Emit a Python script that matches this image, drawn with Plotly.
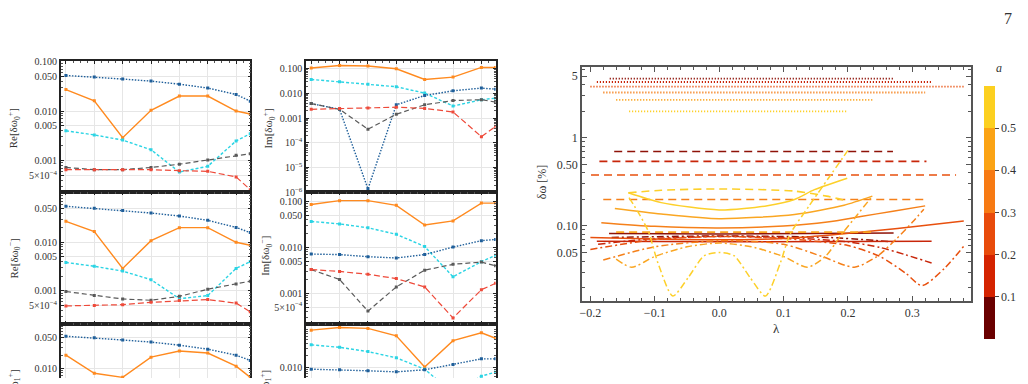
import plotly.graph_objects as go

W, H = 1028, 384
SERIF = "Liberation Serif, DejaVu Serif, serif"

# ---------------- left panels data ----------------
X_LEFT = [1, 2, 3, 4, 5, 6, 7, 7.5]

A_blue = [0.052, 0.0485, 0.044, 0.040, 0.0347, 0.029, 0.0215, 0.0158]
A_orange = [0.027, 0.016, 0.0029, 0.0103, 0.020, 0.020, 0.010, 0.0087]
A_cyan = [0.0040, 0.0033, 0.0026, 0.00166, 0.00059, 0.00077, 0.0025, 0.0035]
A_gray = [0.00073, 0.00066, 0.00066, 0.00073, 0.00085, 0.00103, 0.00128, 0.00138]
A_red = [0.00066, 0.00066, 0.00066, 0.00066, 0.00063, 0.00061, 0.00047, 0.00026]

B_orange = [0.107, 0.135, 0.13, 0.10, 0.037, 0.046, 0.113, 0.113]
B_cyan = [0.037, 0.030, 0.0236, 0.0187, 0.0104, 0.0031, 0.0056, 0.0065]
B_blue = [0.0039, 0.0023, 1.4e-6, 0.0035, 0.0083, 0.0129, 0.0165, 0.015]
B_gray = [0.0039, 0.0023, 0.00036, 0.00145, 0.0035, 0.0052, 0.0056, 0.0045]
B_red = [0.0023, 0.0025, 0.0026, 0.0028, 0.0025, 0.0018, 0.00018, 0.00047]

C_blue = [0.055, 0.050, 0.045, 0.040, 0.0347, 0.0283, 0.0202, 0.0158]
C_orange = [0.027, 0.0166, 0.0029, 0.0108, 0.020, 0.020, 0.010, 0.0087]
C_cyan = [0.00385, 0.0032, 0.00255, 0.0017, 0.00069, 0.0008, 0.0029, 0.004]
C_gray = [0.00097, 0.0008, 0.00068, 0.00064, 0.00077, 0.00108, 0.00138, 0.00158]
C_red = [0.00049, 0.0005, 0.00052, 0.00058, 0.00063, 0.00066, 0.00056, 0.00037]

D_orange = [0.0865, 0.105, 0.105, 0.083, 0.031, 0.038, 0.093, 0.093]
D_cyan = [0.037, 0.0327, 0.0269, 0.0194, 0.0105, 0.0023, 0.0049, 0.0068]
D_blue = [0.0072, 0.0070, 0.0063, 0.0059, 0.0070, 0.0102, 0.0141, 0.015]
D_gray = [0.0033, 0.0020, 0.00041, 0.00138, 0.0032, 0.0043, 0.0048, 0.0040]
D_red = [0.0033, 0.0030, 0.0026, 0.0021, 0.00138, 0.00029, 0.0012, 0.00166]

E_blue = [0.0545, 0.050, 0.0447, 0.040, 0.034, 0.0275, 0.020, 0.0151]
E_orange = [0.020, 0.0077, 0.0062, 0.018, 0.025, 0.0224, 0.0112, 0.0062]

F_orange = [0.086, 0.10, 0.095, 0.062, 0.0103, 0.047, 0.074, 0.054]
F_cyan = [0.037, 0.032, 0.025, 0.0175, 0.0091, 0.0023, 0.0061, 0.0077]
F_blue = [0.0091, 0.0088, 0.0083, 0.0078, 0.0088, 0.012, 0.0165, 0.0165]

# ---------------- right panel data ----------------
A_LEVELS = [0.05, 0.15, 0.25, 0.35, 0.45, 0.55]
CURVE_COLORS = ["#8E1208", "#C8260A", "#E8500E", "#F5801A", "#FAA622", "#FDD02A"]

DOT_LAM = [[-0.17, 0.27], [-0.19, 0.33], [-0.20, 0.38], [-0.18, 0.32], [-0.16, 0.24], [-0.14, 0.20]]
DOT_VAL = [[4.71, 4.71], [4.30, 4.30], [3.81, 3.81], [3.27, 3.27], [2.69, 2.69], [2.0, 2.0]]

DASH_LAM = [[-0.163, 0.27], [-0.186, 0.322], [-0.199, 0.368], [-0.18, 0.319], [-0.16, 0.24],
            [-0.141, -0.09, 0.0, 0.116, 0.167, 0.199]]
DASH_VAL = [[0.70, 0.70], [0.54, 0.54], [0.378, 0.378], [0.20, 0.20], [0.085, 0.085],
            [0.238, 0.254, 0.263, 0.249, 0.218, 0.192]]

SOLID_LAM = [[-0.171, 0.0, 0.271],
             [-0.19, 0.0, 0.33],
             [-0.2, -0.1, 0.0, 0.1, 0.173, 0.277, 0.38],
             [-0.183, -0.1, 0.0, 0.1, 0.168, 0.22, 0.27, 0.32],
             [-0.162, -0.09, 0.0, 0.117, 0.194, 0.238],
             [-0.141, -0.09, 0.0, 0.075, 0.117, 0.148, 0.199]]
SOLID_VAL = [[0.082, 0.081, 0.083],
             [0.067, 0.066, 0.067],
             [0.074, 0.071, 0.0697, 0.072, 0.079, 0.0935, 0.114],
             [0.109, 0.099, 0.095, 0.100, 0.111, 0.128, 0.147, 0.169],
             [0.158, 0.137, 0.121, 0.135, 0.172, 0.218],
             [0.238, 0.184, 0.152, 0.17, 0.2, 0.258, 0.348]]

DD_LAM = [[-0.167, 0.0, 0.17, 0.27],
          [-0.188, -0.1, 0.0, 0.1, 0.2, 0.25, 0.29, 0.33],
          [-0.2, -0.1, 0.0, 0.1, 0.2, 0.25, 0.29, 0.315, 0.35, 0.38],
          [-0.18, -0.1, 0.0, 0.1, 0.16, 0.21, 0.245, 0.276, 0.3, 0.318],
          [-0.16, -0.136, -0.1, -0.05, 0.0, 0.05, 0.1, 0.137, 0.165, 0.19, 0.215, 0.238],
          [-0.14, -0.125, -0.11, -0.095, -0.072, -0.048, -0.023, 0.0, 0.023, 0.048, 0.072,
           0.095, 0.11, 0.14, 0.17, 0.2]]
DD_VAL = [[0.074, 0.077, 0.074, 0.066],
          [0.062, 0.072, 0.076, 0.074, 0.066, 0.057, 0.047, 0.038],
          [0.054, 0.07, 0.076, 0.072, 0.06, 0.045, 0.029, 0.021, 0.033, 0.059],
          [0.041, 0.058, 0.068, 0.062, 0.045, 0.034, 0.045, 0.072, 0.11, 0.155],
          [0.042, 0.034, 0.045, 0.058, 0.064, 0.058, 0.045, 0.034, 0.045, 0.08, 0.135, 0.218],
          [0.21, 0.14, 0.087, 0.038, 0.016, 0.026, 0.046, 0.05, 0.046, 0.026, 0.016,
           0.038, 0.08, 0.17, 0.35, 0.72]]

CBAR_COLORS = ["#6A0000", "#D42300", "#E84B0B", "#F77A13", "#FBA314", "#FCD020"]
CBAR_TICKS = [0.1, 0.2, 0.3, 0.4, 0.5]

# ---------------- helpers ----------------
def xd(a, b):
    return [a / W, b / W]

def yd(top, bot):
    return [max(0.0, 1 - bot / H), 1 - top / H]

MINOR_LOG = [m * 10 ** k for k in range(-7, 1) for m in range(2, 10)]

STY = {
    "blue": dict(color="#1F5F9A", dash="1.5px,1.5px", width=1.4),
    "orange": dict(color="#FF8A1F", dash="solid", width=1.4),
    "cyan": dict(color="#2BD4E4", dash="3px,2px", width=1.4),
    "gray": dict(color="#5A5A5A", dash="5px,3px", width=1.2),
    "red": dict(color="#EE4A3A", dash="6px,3px", width=1.2),
}

fig = go.Figure()

def add_left(axn, key, y):
    s = STY[key]
    fig.add_trace(go.Scatter(
        x=X_LEFT, y=y, mode="lines+markers",
        line=dict(color=s["color"], dash=s["dash"], width=s["width"]),
        marker=dict(symbol="square", size=3, color=s["color"]),
        xaxis="x" + axn, yaxis="y" + axn, showlegend=False, hoverinfo="skip"))

panels = {
    "": [("blue", A_blue), ("orange", A_orange), ("cyan", A_cyan), ("gray", A_gray), ("red", A_red)],
    "2": [("orange", B_orange), ("cyan", B_cyan), ("blue", B_blue), ("gray", B_gray), ("red", B_red)],
    "3": [("blue", C_blue), ("orange", C_orange), ("cyan", C_cyan), ("gray", C_gray), ("red", C_red)],
    "4": [("orange", D_orange), ("cyan", D_cyan), ("blue", D_blue), ("gray", D_gray), ("red", D_red)],
    "5": [("blue", E_blue), ("orange", E_orange)],
    "6": [("orange", F_orange), ("cyan", F_cyan), ("blue", F_blue)],
}
for axn, lst in panels.items():
    for key, y in lst:
        add_left(axn, key, y)

# right panel curves
def add_right(lam, val, color, dash, width=1.6):
    fig.add_trace(go.Scatter(
        x=lam, y=val, mode="lines",
        line=dict(color=color, dash=dash, width=width, shape="spline", smoothing=0.7),
        xaxis="x7", yaxis="y7", showlegend=False, hoverinfo="skip"))

for i in range(6):
    c = CURVE_COLORS[i]
    add_right(DOT_LAM[i], DOT_VAL[i], c, "1.2px,1.8px", 1.8)
    add_right(DASH_LAM[i], DASH_VAL[i], c, "8px,5px", 1.6)
    add_right(SOLID_LAM[i], SOLID_VAL[i], c, "solid", 1.5)
    add_right(DD_LAM[i], DD_VAL[i], c, "7px,3px,2px,3px", 1.5)

# colorbar
cs = []
for i, c in enumerate(CBAR_COLORS):
    cs.append([i / 6, c])
    cs.append([(i + 1) / 6, c])
fig.add_trace(go.Scatter(
    x=[None], y=[None], mode="markers", xaxis="x7", yaxis="y7", showlegend=False,
    marker=dict(color=[0.3], cmin=0, cmax=0.6, colorscale=cs, showscale=True,
                colorbar=dict(thickness=11, lenmode="pixels", len=253,
                              x=984 / W, xanchor="left", y=1 - 83.3 / H, yanchor="top",
                              xpad=0, ypad=0, outlinewidth=0,
                              tickmode="array", tickvals=CBAR_TICKS,
                              ticktext=[f"{t:.1f}" for t in CBAR_TICKS],
                              ticks="outside", ticklen=4, tickcolor="#444",
                              tickfont=dict(family=SERIF, size=12, color="#333")))))

# ---------------- axes ----------------
LINE = "#222222"
GRID = "#E6E6E6"

def left_x(dom, top_only=False):
    d = dict(domain=dom, range=[0.82, 7.5], showline=True, linecolor=LINE, linewidth=1.5,
             ticks="inside", ticklen=3, tickwidth=1, tickcolor=LINE, tickmode="linear", tick0=0, dtick=1,
             showticklabels=False, showgrid=True, gridcolor=GRID, gridwidth=1, zeroline=False,
             minor=dict(ticks="inside", ticklen=2, tickwidth=0.8, tickcolor="#555",
                        dtick=0.25, tick0=0, showgrid=False))
    if top_only:
        d.update(side="top", mirror=False)
    else:
        d.update(mirror="allticks")
    return d

def left_y(dom, rng, tv, tt):
    return dict(domain=dom, type="log", range=rng, showline=True, linecolor=LINE, linewidth=1.5,
                mirror="allticks", ticks="inside", ticklen=3, tickwidth=1, tickcolor=LINE,
                tickmode="array", tickvals=tv, ticktext=tt,
                tickfont=dict(family=SERIF, size=10, color="#333"),
                showgrid=True, gridcolor=GRID, gridwidth=1, zeroline=False,
                minor=dict(ticks="inside", ticklen=2, tickwidth=0.8, tickcolor="#555",
                           tickmode="array", tickvals=MINOR_LOG, showgrid=False))

FIVE = "5×10<sup>−4</sup>"
C1 = xd(58, 248)
C2 = xd(304, 494)
R1 = yd(58, 193)
R2 = yd(193, 328)
R3 = yd(328, 384)

lay = dict(
    xaxis=left_x(C1), xaxis2=left_x(C2), xaxis3=left_x(C1), xaxis4=left_x(C2),
    xaxis5=left_x(C1, True), xaxis6=left_x(C2, True),
    yaxis=left_y(R1, [-3.64, -1.0], [0.1, 0.05, 0.01, 0.005, 0.001, 0.0005],
                 ["0.100", "0.050", "0.010", "0.005", "0.001", FIVE]),
    yaxis2=left_y(R1, [-6.0, -0.7], [0.1, 0.01, 0.001, 1e-4, 1e-5, 1e-6],
                  ["0.100", "0.010", "0.001", "10<sup>−4</sup>", "10<sup>−5</sup>", "10<sup>−6</sup>"]),
    yaxis3=left_y(R2, [-3.674, -0.975], [0.05, 0.01, 0.005, 0.001, 0.0005],
                  ["0.050", "0.010", "0.005", "0.001", FIVE]),
    yaxis4=left_y(R2, [-3.66, -0.80], [0.1, 0.05, 0.01, 0.005, 0.001, 0.0005],
                  ["0.100", "0.050", "0.010", "0.005", "0.001", FIVE]),
    yaxis5=left_y(R3, [-2.223, -0.973], [0.05, 0.01], ["0.050", "0.010"]),
    yaxis6=left_y(R3, [-2.261, -0.902], [0.01], ["0.010"]),
)
for k in ["", "2", "3", "4", "5", "6"]:
    lay["xaxis" + k]["anchor"] = "y" + k
    lay["yaxis" + k]["anchor"] = "x" + k

RLINE = "#555555"
lay["xaxis7"] = dict(domain=xd(580.7, 970.7), anchor="y7", range=[-0.213, 0.391],
                     showline=True, linecolor=RLINE, linewidth=1.5, mirror="allticks",
                     ticks="inside", ticklen=5, tickcolor=RLINE, tickmode="array",
                     tickvals=[-0.2, -0.1, 0.0, 0.1, 0.2, 0.3],
                     ticktext=["−0.2", "−0.1", "0.0", "0.1", "0.2", "0.3"],
                     tickfont=dict(family=SERIF, size=12, color="#333"),
                     showgrid=False, zeroline=False,
                     minor=dict(ticks="inside", ticklen=3, tickcolor=RLINE, dtick=0.02, tick0=0))
lay["yaxis7"] = dict(domain=yd(64, 304.3), anchor="x7", type="log", range=[-1.847, 0.802],
                     showline=True, linecolor=RLINE, linewidth=1.5, mirror="allticks",
                     ticks="inside", ticklen=5, tickcolor=RLINE, tickmode="array",
                     tickvals=[5, 1, 0.5, 0.1, 0.05], ticktext=["5", "1", "0.50", "0.10", "0.05"],
                     tickfont=dict(family=SERIF, size=12, color="#333"),
                     showgrid=False, zeroline=False,
                     minor=dict(ticks="inside", ticklen=3, tickcolor=RLINE, tickmode="array",
                                tickvals=MINOR_LOG))

# ---------------- annotations ----------------
ann = []
def add_text(txt, px, py, size=11, angle=0, italic=False):
    ann.append(dict(text=("<i>" + txt + "</i>") if italic else txt, x=px / W, y=1 - py / H,
                    xref="paper", yref="paper", showarrow=False, textangle=angle,
                    xanchor="center", yanchor="middle",
                    font=dict(family=SERIF, size=size, color="#333")))

add_text("Re[δω<sub>0</sub><sup>+</sup>]", 11, 127, 11, -90)
add_text("Im[δω<sub>0</sub><sup>+</sup>]", 267, 127, 11, -90)
add_text("Re[δω<sub>0</sub><sup>−</sup>]", 11, 261, 11, -90)
add_text("Im[δω<sub>0</sub><sup>−</sup>]", 263, 258, 11, -90)
add_text("Re[δω<sub>1</sub><sup>+</sup>]", 11, 396, 11, -90)
add_text("Im[δω<sub>1</sub><sup>+</sup>]", 263, 396, 11, -90)
add_text("δω [%]", 540, 182, 12, -90)
add_text("λ", 775.7, 333, 13)
add_text("a", 999, 65, 12, 0, True)
add_text("7", 1008, 14, 16)

lay.update(width=W, height=H, margin=dict(l=0, r=0, t=0, b=0),
           paper_bgcolor="white", plot_bgcolor="white", showlegend=False,
           annotations=ann, font=dict(family=SERIF))

fig.update_layout(**lay)
fig.write_html("out.html")
